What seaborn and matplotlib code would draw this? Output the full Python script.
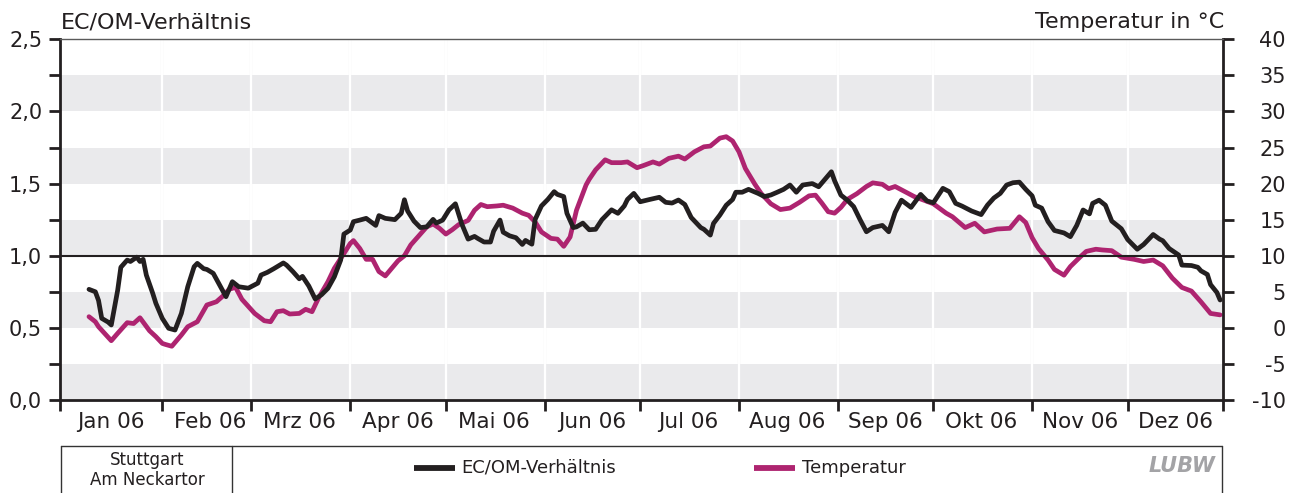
import numpy as np
import pandas as pd
import matplotlib
matplotlib.use("Agg")
import matplotlib.pyplot as plt
import matplotlib.dates as mdates
from matplotlib.ticker import FixedLocator, FixedFormatter, NullFormatter
from matplotlib.lines import Line2D
import seaborn as sns

# ---------------------------------------------------------------- data
YEAR_START = pd.Timestamp("2006-01-01")

# EC/OM ratio, Stuttgart Am Neckartor (day offset from 1 Jan 2006)
ecom_day = [8, 10, 11, 12, 14, 15, 17, 18, 20, 21, 23, 24, 25, 26, 28, 29, 31, 33, 35, 37,
            39, 41, 42, 44, 45, 47, 49, 51, 53, 55, 58, 61, 62, 64, 66, 69, 70, 72, 74, 75,
            77, 79, 81, 83, 85, 87, 88, 90, 91, 93, 95, 98, 99, 101, 104, 106, 107, 108, 110, 112,
            114, 116, 117, 119, 121, 123, 125, 127, 129, 130, 132, 134, 135, 137, 138, 140, 142, 144, 145, 147,
            148, 150, 152, 154, 155, 157, 158, 160, 161, 163, 165, 167, 169, 172, 174, 176, 177, 179, 181, 184,
            187, 189, 191, 193, 195, 197, 200, 201, 203, 204, 206, 208, 210, 211, 213, 215, 218, 220, 222, 224,
            226, 228, 230, 232, 235, 237, 239, 241, 242, 244, 246, 248, 250, 252, 254, 257, 259, 261, 263, 266,
            269, 271, 273, 276, 278, 280, 282, 285, 288, 290, 292, 294, 296, 298, 300, 302, 304, 305, 307, 309,
            311, 314, 316, 318, 320, 322, 323, 325, 327, 329, 332, 334, 337, 339, 342, 344, 345, 347, 350, 351,
            354, 356, 357, 359, 360, 362, 363]
ecom_ratio = [0.767, 0.75, 0.69, 0.566, 0.54, 0.52, 0.76, 0.92, 0.97, 0.96, 0.99, 0.96, 0.975, 0.866, 0.74, 0.67, 0.566, 0.497, 0.485, 0.60,
              0.785, 0.924, 0.947, 0.91, 0.905, 0.878, 0.797, 0.716, 0.82, 0.785, 0.775, 0.81, 0.866, 0.885, 0.91, 0.95, 0.935, 0.89, 0.84, 0.857,
              0.79, 0.70, 0.73, 0.774, 0.854, 0.97, 1.15, 1.178, 1.236, 1.247, 1.259, 1.21, 1.278, 1.259, 1.25, 1.294, 1.388, 1.31, 1.24, 1.195,
              1.20, 1.252, 1.226, 1.247, 1.318, 1.36, 1.22, 1.115, 1.134, 1.12, 1.095, 1.095, 1.17, 1.247, 1.163, 1.138, 1.125, 1.078, 1.106, 1.08,
              1.25, 1.345, 1.39, 1.444, 1.425, 1.41, 1.294, 1.195, 1.20, 1.226, 1.18, 1.183, 1.25, 1.318, 1.294, 1.345, 1.39, 1.432, 1.374, 1.39,
              1.405, 1.37, 1.365, 1.386, 1.355, 1.265, 1.195, 1.183, 1.143, 1.224, 1.282, 1.35, 1.39, 1.44, 1.44, 1.46, 1.432, 1.41, 1.421, 1.44,
              1.46, 1.49, 1.44, 1.49, 1.50, 1.478, 1.53, 1.582, 1.52, 1.42, 1.385, 1.34, 1.25, 1.166, 1.195, 1.21, 1.166, 1.30, 1.385, 1.335,
              1.425, 1.38, 1.367, 1.467, 1.444, 1.363, 1.344, 1.31, 1.285, 1.351, 1.40, 1.432, 1.49, 1.506, 1.51, 1.46, 1.415, 1.35, 1.33, 1.236,
              1.175, 1.158, 1.132, 1.21, 1.317, 1.29, 1.363, 1.385, 1.35, 1.24, 1.187, 1.112, 1.045, 1.078, 1.147, 1.115, 1.104, 1.05, 1.005, 0.935,
              0.932, 0.92, 0.895, 0.87, 0.80, 0.745, 0.693]

# air temperature in degC (day offset from 1 Jan 2006)
temp_day = [8, 10, 11, 15, 17, 20, 22, 24, 27, 29, 31, 32, 34, 37, 39, 42, 45, 48, 50, 52,
            54, 56, 60, 63, 65, 67, 69, 71, 74, 76, 78, 80, 83, 85, 88, 90, 91, 93, 95, 97,
            99, 101, 103, 105, 107, 109, 112, 114, 116, 118, 120, 122, 124, 127, 129, 131, 133, 136, 138, 141,
            144, 146, 148, 150, 153, 155, 157, 159, 161, 164, 165, 167, 170, 172, 175, 177, 180, 182, 185, 187,
            190, 193, 195, 198, 201, 203, 206, 208, 210, 212, 214, 217, 219, 222, 225, 228, 231, 234, 236, 238,
            240, 242, 244, 246, 249, 252, 254, 257, 259, 261, 264, 267, 270, 273, 277, 279, 283, 286, 289, 293,
            297, 300, 302, 304, 306, 309, 311, 314, 316, 319, 321, 324, 326, 329, 332, 336, 339, 342, 345, 348,
            351, 354, 357, 360, 363]
temp_c = [1.55, 0.85, 0.16, -1.78, -0.76, 0.72, 0.6, 1.4, -0.4, -1.22, -2.15, -2.3, -2.55, -0.99, 0.16, 0.85, 3.17, 3.62, 4.4, 5.34,
          5.62, 3.96, 2.0, 0.99, 0.85, 2.24, 2.38, 1.92, 2.0, 2.57, 2.24, 4.1, 6.4, 8.25, 10.3, 11.7, 12.1, 11.0, 9.5, 9.5,
          7.8, 7.2, 8.25, 9.3, 10.0, 11.5, 13.0, 14.0, 14.4, 13.8, 13.0, 13.6, 14.3, 14.9, 16.3, 17.1, 16.8, 16.9, 17.0, 16.6,
          15.9, 15.6, 14.7, 13.3, 12.4, 12.3, 11.3, 12.6, 16.3, 19.8, 20.6, 21.9, 23.3, 22.9, 22.9, 23.0, 22.2, 22.5, 23.0, 22.7,
          23.5, 23.8, 23.4, 24.4, 25.1, 25.2, 26.3, 26.5, 25.9, 24.4, 22.1, 19.9, 18.6, 17.2, 16.4, 16.6, 17.4, 18.3, 18.4, 17.3,
          16.1, 15.9, 16.7, 17.8, 18.6, 19.6, 20.1, 19.9, 19.3, 19.6, 18.9, 18.2, 17.7, 17.2, 15.9, 15.4, 13.9, 14.5, 13.3, 13.7,
          13.8, 15.4, 14.6, 12.5, 11.0, 9.4, 8.1, 7.3, 8.5, 9.8, 10.6, 10.9, 10.8, 10.7, 9.8, 9.5, 9.2, 9.4, 8.6, 6.9,
          5.6, 5.1, 3.6, 2.0, 1.8]

month_labels = ["Jan 06", "Feb 06", "Mrz 06", "Apr 06", "Mai 06", "Jun 06",
                "Jul 06", "Aug 06", "Sep 06", "Okt 06", "Nov 06", "Dez 06"]
ratio_ticks = [0.0, 0.25, 0.5, 0.75, 1.0, 1.25, 1.5, 1.75, 2.0, 2.25, 2.5]
temp_ticks = [-10, -5, 0, 5, 10, 15, 20, 25, 30, 35, 40]

series_ecom = "EC/OM-Verhältnis"
series_temp = "Temperatur"
station = "Stuttgart\nAm Neckartor"

# ---------------------------------------------------------------- style
BLACK = "#231f20"
MAGENTA = "#ae2470"
BAND = "#eaeaec"
GRID_LIGHT = "#e4e4e6"

sns.set_style("white")
plt.rcParams["font.family"] = ["DejaVu Sans"]
plt.rcParams["text.color"] = BLACK

W, H = 1289, 493
fig = plt.figure(figsize=(W / 100, H / 100), dpi=100)


def fx(px):
    return px / W


def fy(py):
    return 1 - py / H


ax = fig.add_axes([fx(60.3), fy(400), fx(1223.3) - fx(60.3), fy(39.3) - fy(400)])
ax2 = ax.twinx()
# ratio axis drawn above the temperature axis so the black curve sits on top
ax.set_zorder(ax2.get_zorder() + 1)
ax.patch.set_visible(False)

ecom = pd.DataFrame({"Datum": YEAR_START + pd.to_timedelta(ecom_day, unit="D"),
                     "Wert": ecom_ratio})
temp = pd.DataFrame({"Datum": YEAR_START + pd.to_timedelta(temp_day, unit="D"),
                     "Wert": temp_c})

x0 = YEAR_START - pd.Timedelta(days=1)
x1 = pd.Timestamp("2006-12-31")
month_starts = pd.date_range("2006-02-01", "2006-12-01", freq="MS")
mid_months = pd.date_range("2006-01-01", "2006-12-01", freq="MS") + pd.Timedelta(days=15)

# background bands and grid on the temperature axis (bottom layer)
for lo in temp_ticks[::2][:-1]:
    ax2.axhspan(lo, lo + 5, color=BAND, lw=0, zorder=0.5)
for d in month_starts:
    ax2.axvline(d, color=GRID_LIGHT, lw=1.6, zorder=0.2)
    ax2.axvline(d, color="white", lw=1.6, zorder=0.8)

sns.lineplot(data=temp, x="Datum", y="Wert", ax=ax2, color=MAGENTA, lw=3.4,
             legend=False, zorder=2)
sns.lineplot(data=ecom, x="Datum", y="Wert", ax=ax, color=BLACK, lw=3.4,
             legend=False, zorder=3)
for l in ax.lines + ax2.lines:
    l.set_solid_joinstyle("round")
    l.set_solid_capstyle("round")

ax.axhline(1.0, color=BLACK, lw=1.5, zorder=2.5)

ax.set_xlim(x0, x1)
ax.set_ylim(0, 2.5)
ax2.set_ylim(-10, 40)
ax.set_xlabel("")
ax.set_ylabel("")
ax2.set_xlabel("")
ax2.set_ylabel("")

# x axis: month boundaries as ticks, month names centred between them
major = [x0] + list(month_starts) + [x1]
ax.xaxis.set_major_locator(FixedLocator(mdates.date2num(major)))
ax.xaxis.set_major_formatter(NullFormatter())
ax.xaxis.set_minor_locator(FixedLocator(mdates.date2num(mid_months)))
ax.xaxis.set_minor_formatter(FixedFormatter(month_labels))
ax.tick_params(axis="x", which="major", direction="out", length=8, width=2.0,
               color=BLACK, bottom=True)
ax.tick_params(axis="x", which="minor", length=0, labelsize=15.5, pad=9,
               labelcolor=BLACK, bottom=True)

# left axis
ax.yaxis.set_major_locator(FixedLocator(ratio_ticks))
ax.yaxis.set_major_formatter(FixedFormatter(
    [f"{v:.1f}".replace(".", ",") if abs(v * 2 - round(v * 2)) < 1e-9 else "" for v in ratio_ticks]))
ax.tick_params(axis="y", which="major", direction="out", length=8, width=2.0,
               color=BLACK, labelsize=15, pad=5, left=True, labelcolor=BLACK)

# right axis
ax2.yaxis.set_major_locator(FixedLocator(temp_ticks))
ax2.yaxis.set_major_formatter(FixedFormatter([str(v) for v in temp_ticks]))
ax2.tick_params(axis="y", which="major", direction="out", length=8, width=2.0,
                color=BLACK, labelsize=15, pad=37, right=True, labelcolor=BLACK)
for t in ax2.get_yticklabels():
    t.set_horizontalalignment("right")

for name, sp in ax.spines.items():
    sp.set_visible(name in ("left", "bottom", "top"))
    sp.set_color(BLACK)
    sp.set_linewidth(2.0)
ax.spines["top"].set_color("#5a5a5a")
ax.spines["top"].set_linewidth(1.0)
for name, sp in ax2.spines.items():
    sp.set_visible(name == "right")
    sp.set_color(BLACK)
    sp.set_linewidth(2.0)

# axis titles
fig.text(fx(61), fy(22), series_ecom, ha="left", va="center", fontsize=16)
fig.text(fx(1224), fy(22), "Temperatur in °C", ha="right", va="center", fontsize=16)

# legend panel below the chart
frame_kw = dict(transform=fig.transFigure, color="#333333", lw=1.0, clip_on=False)
fig.add_artist(Line2D([fx(61), fx(1222)], [fy(446), fy(446)], **frame_kw))
fig.add_artist(Line2D([fx(61), fx(61)], [fy(446), 0], **frame_kw))
fig.add_artist(Line2D([fx(232), fx(232)], [fy(446), 0], **frame_kw))
fig.add_artist(Line2D([fx(1222), fx(1222)], [fy(446), 0], **frame_kw))

fig.text(fx(147), fy(470), station, ha="center", va="center", fontsize=12,
         linespacing=1.15)

fig.add_artist(Line2D([fx(414), fx(455)], [fy(468), fy(468)], transform=fig.transFigure,
                      color=BLACK, lw=4.2, solid_capstyle="butt"))
fig.text(fx(461), fy(468), series_ecom, ha="left", va="center", fontsize=13)
fig.add_artist(Line2D([fx(754), fx(795)], [fy(468), fy(468)], transform=fig.transFigure,
                      color=MAGENTA, lw=4.2, solid_capstyle="butt"))
fig.text(fx(802), fy(468), series_temp, ha="left", va="center", fontsize=13)

fig.text(fx(1215), fy(466), "LUBW", ha="right", va="center", fontsize=15,
         fontweight="bold", fontstyle="italic", color="#a3a3a6")

fig.savefig("out.png", dpi=100, facecolor="white")
